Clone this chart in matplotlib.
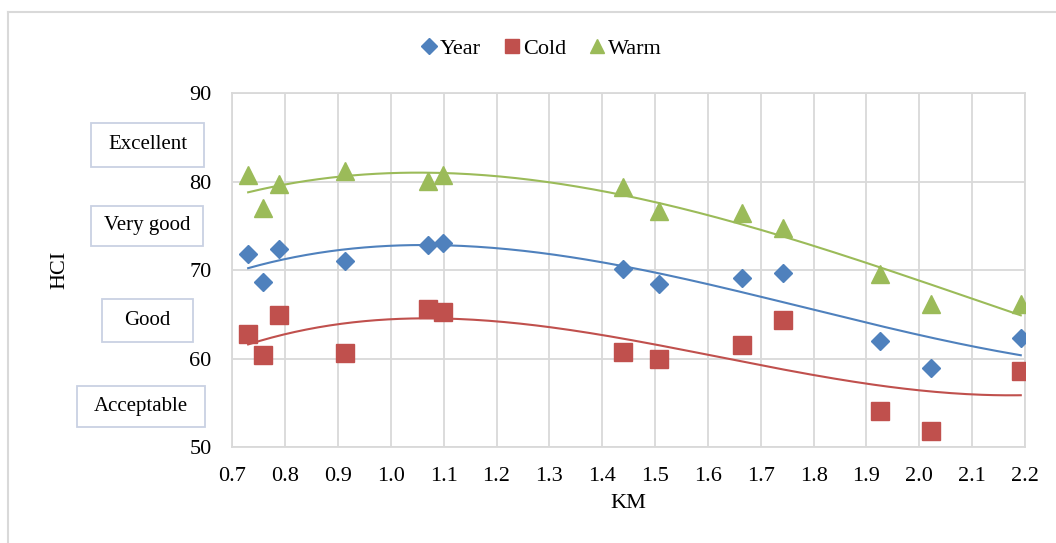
import numpy as np
import matplotlib
matplotlib.use("Agg")
import matplotlib.pyplot as plt
from matplotlib.patches import Rectangle
from matplotlib.lines import Line2D

km = [0.730, 0.759, 0.789, 0.913, 1.070, 1.098, 1.440, 1.507, 1.664, 1.742, 1.925, 2.023, 2.192]
year = [71.8, 68.7, 72.4, 71.0, 72.9, 73.1, 70.1, 68.5, 69.1, 69.7, 62.0, 59.0, 62.4]
cold = [62.8, 60.4, 65.0, 60.6, 65.6, 65.3, 60.8, 60.0, 61.6, 64.4, 54.1, 51.8, 58.6]
warm = [80.8, 77.0, 79.7, 81.2, 80.1, 80.8, 79.4, 76.7, 76.5, 74.8, 69.6, 66.2, 66.2]
series_names = ["Year", "Cold", "Warm"]
class_labels = ["Excellent", "Very good", "Good", "Acceptable"]
x_ticks = [0.7, 0.8, 0.9, 1.0, 1.1, 1.2, 1.3, 1.4, 1.5, 1.6, 1.7, 1.8, 1.9, 2.0, 2.1, 2.2]
y_ticks = [50, 60, 70, 80, 90]

W, H = 1056, 543
fig = plt.figure(figsize=(W / 100, H / 100), dpi=100)
plt.rcParams['font.family'] = ['Liberation Serif', 'DejaVu Serif']

ax = fig.add_axes([232.3 / W, 1 - 447.3 / H, (1025.0 - 232.3) / W, (447.3 - 93.3) / H])

colors = ["#4f81bd", "#c0504d", "#9bbb59"]
markers = ["D", "s", "^"]
msizes = [9.4, 12.3, 12.3]
data = [year, cold, warm]

xs = np.array(km)
xfit = np.linspace(xs.min(), xs.max(), 200)
for vals, c, m, ms, name in zip(data, colors, markers, msizes, series_names):
    ax.plot(km, vals, linestyle="none", marker=m, markersize=ms, color=c,
            markeredgecolor=c, label=name, zorder=3)
    coef = np.polyfit(xs, np.array(vals), 3)
    ax.plot(xfit, np.polyval(coef, xfit), color=c, linewidth=1.5, zorder=2)

ax.set_xlim(0.7, 2.2)
ax.set_ylim(50, 90)
ax.set_xticks(x_ticks)
ax.set_xticklabels([f"{t:.1f}" for t in x_ticks])
ax.set_yticks(y_ticks)
ax.grid(True, color="#d9d9d9", linewidth=1.3)
ax.set_axisbelow(True)
for sp in ax.spines.values():
    sp.set_color("#d9d9d9")
    sp.set_linewidth(1.3)
ax.tick_params(length=0, labelsize=16, pad=14)
ax.tick_params(axis='y', pad=15)
ax.set_xlabel("KM", fontsize=16, labelpad=6)

fig.text(60 / W, 1 - 270 / H, "HCI", rotation=90, fontsize=16, ha="center", va="center")

# class boxes (pixel coordinates)
boxes = [(90.7, 122.7, 204.3, 167.0), (90.7, 205.7, 203.3, 246.0),
         (102.3, 299.3, 193.3, 341.7), (77.3, 385.7, 205.3, 426.7)]
for lab, (x0, y0, x1, y1) in zip(class_labels, boxes):
    r = Rectangle((x0 / W, 1 - y1 / H), (x1 - x0) / W, (y1 - y0) / H,
                  transform=fig.transFigure, facecolor="white",
                  edgecolor="#c9d1e3", linewidth=1.3)
    fig.add_artist(r)
    fig.text((x0 + x1) / 2 / W, 1 - (y0 + y1) / 2 / H, lab, fontsize=15,
             ha="center", va="center")

# outer frame (left and top visible)
fig.add_artist(Line2D([8 / W, 8 / W], [0, 1 - 11.5 / H], transform=fig.transFigure,
                      color="#d9d9d9", linewidth=1.5))
fig.add_artist(Line2D([8 / W, 1], [1 - 11.5 / H, 1 - 11.5 / H], transform=fig.transFigure,
                      color="#d9d9d9", linewidth=1.5))

handles = [Line2D([], [], linestyle="none", marker=m, markersize=ms * 0.85, color=c)
           for m, ms, c in zip(markers, msizes, colors)]
fig.legend(handles, series_names, loc="center", bbox_to_anchor=(541 / W, 1 - 49 / H),
           ncol=3, frameon=False, fontsize=16, handlelength=0.8, handletextpad=0.1,
           columnspacing=1.0, borderaxespad=0)

fig.savefig("out.png", dpi=100)
